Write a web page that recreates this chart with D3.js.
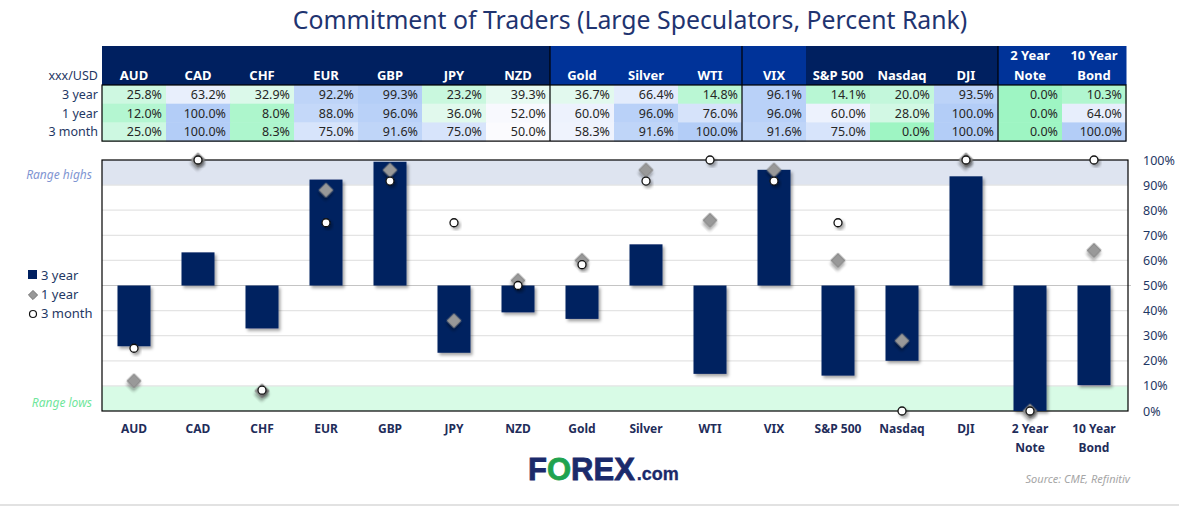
<!DOCTYPE html>
<html>
<head>
<meta charset="utf-8">
<script src="https://cdn.jsdelivr.net/npm/d3@7"></script>
<style>
  body { margin: 0; background: #fff; }
  svg { display: block; font-family: "Noto Sans", "Open Sans", sans-serif; }
</style>
</head>
<body>
<div id="chart"></div>
<script>
// values
const cats = ["AUD", "CAD", "CHF", "EUR", "GBP", "JPY", "NZD", "Gold", "Silver", "WTI",
              "VIX", "S&P 500", "Nasdaq", "DJI", "2 Year Note", "10 Year Bond"];
const labelLines = [["AUD"], ["CAD"], ["CHF"], ["EUR"], ["GBP"], ["JPY"], ["NZD"], ["Gold"], ["Silver"], ["WTI"],
                    ["VIX"], ["S&P 500"], ["Nasdaq"], ["DJI"], ["2 Year", "Note"], ["10 Year", "Bond"]];
const threeYear  = [25.8, 63.2, 32.9, 92.2, 99.3, 23.2, 39.3, 36.7, 66.4, 14.8, 96.1, 14.1, 20.0, 93.5, 0.0, 10.3];
const oneYear    = [12.0, 100.0, 8.0, 88.0, 96.0, 36.0, 52.0, 60.0, 96.0, 76.0, 96.0, 60.0, 28.0, 100.0, 0.0, 64.0];
const threeMonth = [25.0, 100.0, 8.3, 75.0, 91.6, 75.0, 50.0, 58.3, 91.6, 100.0, 91.6, 75.0, 0.0, 100.0, 0.0, 100.0];
const rowNames = ["3 year", "1 year", "3 month"];
const headerGroup = [0, 0, 0, 0, 0, 0, 0, 1, 1, 1, 1, 0, 0, 0, 1, 1];
const groupBreaks = ["Gold", "VIX", "2 Year Note"];
const yTicks = [0, 10, 20, 30, 40, 50, 60, 70, 80, 90, 100];

const W = 1179, H = 506;
const navy = "#002060", blue = "#003399", textNavy = "#1f3864";

const svg = d3.select("#chart").append("svg").attr("width", W).attr("height", H);

const defs = svg.append("defs");
defs.append("filter").attr("id", "shadow")
    .attr("x", "-50%").attr("y", "-50%").attr("width", "200%").attr("height", "200%")
  .append("feDropShadow")
    .attr("dx", 2).attr("dy", 2.5).attr("stdDeviation", 1.8)
    .attr("flood-color", "#000").attr("flood-opacity", 0.35);

// title
svg.append("text")
    .attr("x", 630).attr("y", 29)
    .attr("text-anchor", "middle")
    .attr("font-size", 24.8)
    .attr("fill", "#1f3470")
    .text("Commitment of Traders (Large Speculators, Percent Rank)");

// shared x scale for table columns and chart
const x = d3.scaleBand().domain(cats).range([102, 1126]);
const y = d3.scaleLinear().domain([0, 100]).range([411, 160]);

// ---- table ----
const headTop = 46, headBot = 85, rowH = 18.7;
const cellColor = d3.scaleLinear().domain([0, 50, 100]).range(["#9ef5c3", "#fbfbfe", "#b3cdf7"]);

const table = svg.append("g");
table.selectAll("rect.head")
  .data(cats)
  .join("rect")
    .attr("x", d => x(d)).attr("y", headTop)
    .attr("width", x.bandwidth() + 0.5).attr("height", headBot - headTop)
    .attr("fill", (d, i) => headerGroup[i] ? blue : navy);

table.selectAll("text.head")
  .data(cats)
  .join("text")
    .attr("x", d => x(d) + x.bandwidth() / 2)
    .attr("text-anchor", "middle")
    .attr("font-size", 13).attr("font-weight", "bold").attr("fill", "#fff")
    .each(function(d, i) {
      const lines = labelLines[i];
      const t = d3.select(this);
      lines.forEach((l, k) => {
        t.append("tspan")
          .attr("x", x(d) + x.bandwidth() / 2)
          .attr("y", 80 - (lines.length - 1 - k) * 20)
          .text(l);
      });
    });

const series = [threeYear, oneYear, threeMonth];
series.forEach((vals, r) => {
  const ry = headBot + r * rowH;
  table.selectAll("rect.r" + r)
    .data(vals)
    .join("rect")
      .attr("x", (d, i) => x(cats[i])).attr("y", ry)
      .attr("width", x.bandwidth() + 0.5).attr("height", rowH + 0.5)
      .attr("fill", d => cellColor(d));
  table.selectAll("text.r" + r)
    .data(vals)
    .join("text")
      .attr("x", (d, i) => x(cats[i]) + x.bandwidth() - 4)
      .attr("y", ry + 14)
      .attr("text-anchor", "end")
      .attr("font-size", 12.5).attr("fill", "#262626")
      .text(d => d.toFixed(1) + "%");
  table.append("text")
      .attr("x", 98).attr("y", ry + 14)
      .attr("text-anchor", "end")
      .attr("font-size", 12.5).attr("fill", textNavy)
      .text(rowNames[r]);
});
table.append("text")
    .attr("x", 98).attr("y", 80)
    .attr("text-anchor", "end")
    .attr("font-size", 12.5).attr("fill", textNavy)
    .text("xxx/USD");

const tableBot = headBot + 3 * rowH;
table.append("rect")
    .attr("x", 102).attr("y", headBot)
    .attr("width", 1024).attr("height", tableBot - headBot)
    .attr("fill", "none").attr("stroke", "#000").attr("stroke-width", 1.2);
table.selectAll("line.sep")
  .data(groupBreaks)
  .join("line")
    .attr("x1", d => x(d)).attr("x2", d => x(d))
    .attr("y1", headTop).attr("y2", tableBot)
    .attr("stroke", "#000").attr("stroke-width", 1.2);

// ---- chart ----
const plot = svg.append("g");
const px0 = 102, px1 = 1128;

plot.append("rect")
    .attr("x", px0).attr("y", y(100))
    .attr("width", px1 - px0).attr("height", y(90) - y(100))
    .attr("fill", "#dee4f0");
plot.append("rect")
    .attr("x", px0).attr("y", y(10))
    .attr("width", px1 - px0).attr("height", y(0) - y(10))
    .attr("fill", "#d8fbe6");

plot.selectAll("line.grid")
  .data(yTicks.filter(d => d > 0 && d < 100))
  .join("line")
    .attr("x1", px0).attr("x2", d => d === 50 ? px1 + 3 : px1)
    .attr("y1", d => y(d)).attr("y2", d => y(d))
    .attr("stroke", d => d === 50 ? "#c4c4c4" : "#e4e4e4")
    .attr("stroke-width", 1.2);

plot.append("rect")
    .attr("x", px0).attr("y", y(100))
    .attr("width", px1 - px0).attr("height", y(0) - y(100))
    .attr("fill", "none").attr("stroke", "#000").attr("stroke-width", 1.2);

const barW = 33;
plot.selectAll("rect.bar")
  .data(threeYear)
  .join("rect")
    .attr("x", (d, i) => x(cats[i]) + x.bandwidth() / 2 - barW / 2)
    .attr("y", d => y(Math.max(d, 50)))
    .attr("width", barW)
    .attr("height", d => Math.abs(y(d) - y(50)))
    .attr("fill", navy)
    .attr("filter", "url(#shadow)");

const diamond = d3.symbol().type(d3.symbolSquare).size(100);
plot.selectAll("path.dia")
  .data(oneYear)
  .join("path")
    .attr("d", diamond)
    .attr("transform", (d, i) => `translate(${x(cats[i]) + x.bandwidth() / 2},${y(d)}) rotate(45)`)
    .attr("fill", "#999").attr("stroke", "#7f7f7f").attr("stroke-width", 0.8)
    .attr("filter", "url(#shadow)");

plot.selectAll("circle.m3")
  .data(threeMonth)
  .join("circle")
    .attr("cx", (d, i) => x(cats[i]) + x.bandwidth() / 2)
    .attr("cy", d => y(d))
    .attr("r", 4)
    .attr("fill", "#fff").attr("stroke", "#111").attr("stroke-width", 1.3)
    .attr("filter", "url(#shadow)");

// right axis
const yAxis = d3.axisRight(y).tickValues(yTicks).tickSize(0).tickPadding(15).tickFormat(d => d + "%");
const ag = svg.append("g").attr("transform", `translate(${px1},0)`).call(yAxis);
ag.select(".domain").remove();
ag.selectAll("text").attr("font-size", 12.5).attr("fill", textNavy)
    .attr("font-family", "'Noto Sans', sans-serif");

// x labels
svg.selectAll("text.xl")
  .data(cats)
  .join("text")
    .attr("text-anchor", "middle")
    .attr("font-size", 12).attr("font-weight", "bold").attr("fill", "#1f2d5a")
    .each(function(d, i) {
      const t = d3.select(this);
      labelLines[i].forEach((l, k) => {
        t.append("tspan")
          .attr("x", x(d) + x.bandwidth() / 2)
          .attr("y", 433 + k * 19)
          .text(l);
      });
    });

// range labels
svg.append("text").attr("x", 92).attr("y", 179).attr("text-anchor", "end")
    .attr("font-size", 12).attr("font-style", "italic").attr("fill", "#7f95d2").text("Range highs");
svg.append("text").attr("x", 92).attr("y", 407).attr("text-anchor", "end")
    .attr("font-size", 12).attr("font-style", "italic").attr("fill", "#6fe69b").text("Range lows");

// legend
const lg = svg.append("g").attr("font-size", 13).attr("fill", textNavy);
lg.append("rect").attr("x", 28).attr("y", 270).attr("width", 9).attr("height", 9).attr("fill", navy);
lg.append("text").attr("x", 41).attr("y", 280).text("3 year");
lg.append("path").attr("d", d3.symbol().type(d3.symbolSquare).size(42))
    .attr("transform", "translate(33,295) rotate(45)")
    .attr("fill", "#999").attr("stroke", "#666").attr("stroke-width", 0.8);
lg.append("text").attr("x", 41).attr("y", 299).text("1 year");
lg.append("circle").attr("cx", 33).attr("cy", 314).attr("r", 3.5)
    .attr("fill", "#fff").attr("stroke", "#111").attr("stroke-width", 1.2);
lg.append("text").attr("x", 41).attr("y", 318).text("3 month");

// logo
const logo = svg.append("text").attr("x", 528).attr("y", 480)
    .attr("font-family", "'Liberation Sans', Arial, sans-serif")
    .attr("font-weight", "bold").attr("font-size", 31).attr("fill", "#1b2a6b")
    .attr("stroke", "#1b2a6b").attr("stroke-width", 0.8);
logo.append("tspan").text("F");
logo.append("tspan").attr("fill", "#1fa34f").attr("stroke", "#1fa34f").text("O");
logo.append("tspan").text("REX");
logo.append("tspan").attr("font-size", 18).attr("stroke-width", 0.3).attr("dx", 2).text(".com");

// source
svg.append("text").attr("x", 1130).attr("y", 483).attr("text-anchor", "end")
    .attr("font-size", 11).attr("font-style", "italic").attr("fill", "#a6a6a6")
    .text("Source: CME, Refinitiv");

svg.append("line").attr("x1", 0).attr("x2", W).attr("y1", 505).attr("y2", 505)
    .attr("stroke", "#d9d9d9").attr("stroke-width", 1.5);
</script>
</body>
</html>
